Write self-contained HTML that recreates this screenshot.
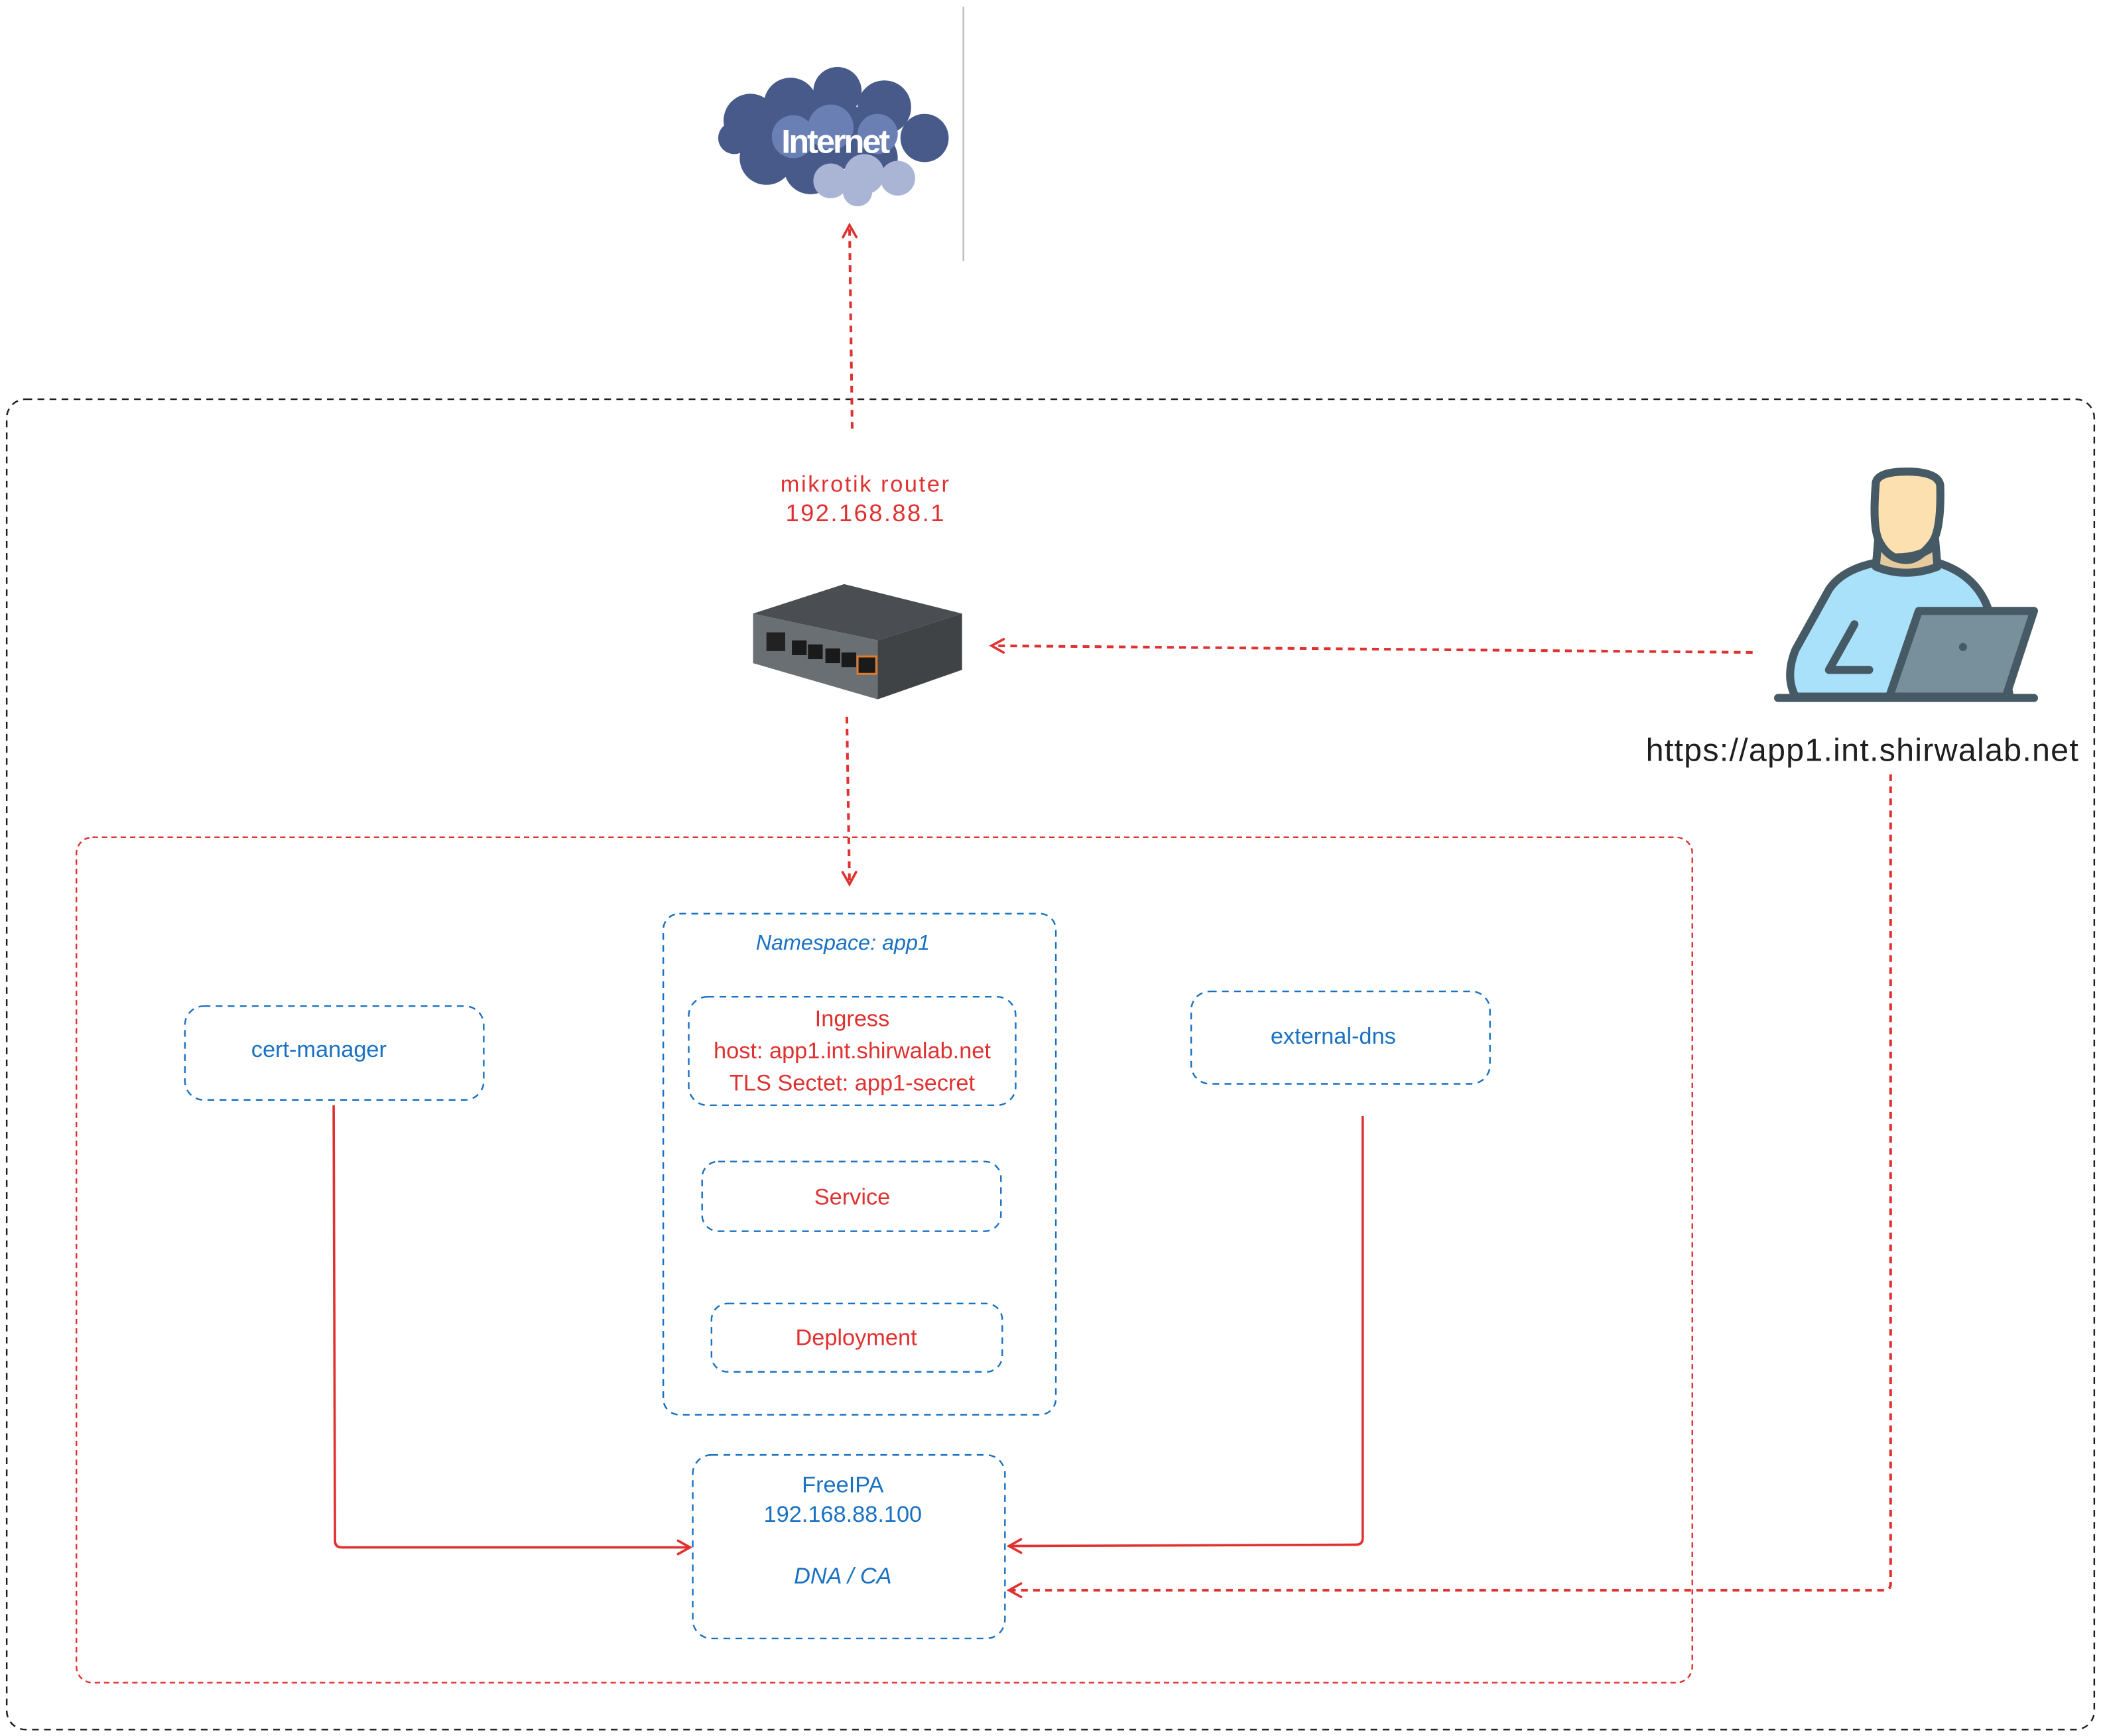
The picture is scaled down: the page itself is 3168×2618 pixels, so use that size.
<!DOCTYPE html>
<html><head><meta charset="utf-8"><style>
html,body{margin:0;padding:0;background:#fff;}
svg{display:block;}
text{font-family:"Liberation Sans",sans-serif;}
</style></head><body>
<svg width="3168" height="2618" viewBox="0 0 1568 1295.8" xmlns="http://www.w3.org/2000/svg">
<defs>
<marker id="ah" markerWidth="12" markerHeight="12" refX="10" refY="6" orient="auto" markerUnits="userSpaceOnUse">
<path d="M1,1 L10,6 L1,11" fill="none" stroke="#e03131" stroke-width="1.8" stroke-linecap="round"/>
</marker>
</defs>
<rect width="1568" height="1296" fill="#fff"/>
<line x1="719" y1="5" x2="719" y2="195" stroke="#bbb" stroke-width="1.2"/>
<rect x="5" y="298" width="1558" height="993" rx="14" fill="none" stroke="#1e1e1e" stroke-width="1.2" stroke-dasharray="5 4"/>
<rect x="57" y="625" width="1206" height="631" rx="12" fill="none" stroke="#e03131" stroke-width="1.2" stroke-dasharray="4 3"/>
<!-- cloud -->
<g>
<g fill="#475a8a">
<circle cx="560" cy="90" r="20"/><circle cx="590" cy="78" r="20"/><circle cx="625" cy="68" r="18"/><circle cx="660" cy="80" r="20"/><circle cx="690" cy="103" r="18"/><circle cx="572" cy="118" r="20"/><circle cx="605" cy="125" r="20"/><circle cx="650" cy="118" r="20"/><circle cx="548" cy="103" r="12"/><circle cx="620" cy="100" r="28"/>
</g>
<g fill="#6a7fb3"><circle cx="592" cy="102" r="16"/><circle cx="620" cy="95" r="17"/><circle cx="655" cy="100" r="15"/></g>
<g fill="#aab5d6"><circle cx="620" cy="135" r="13"/><circle cx="645" cy="130" r="15"/><circle cx="670" cy="133" r="13"/><circle cx="640" cy="143" r="11"/></g>
<text x="623" y="114" text-anchor="middle" font-size="25" font-weight="bold" fill="#fff" letter-spacing="-1.5">Internet</text>
</g>
<line x1="636" y1="320" x2="634" y2="168" stroke="#e03131" stroke-width="2" stroke-dasharray="5 4" marker-end="url(#ah)"/>
<text x="646" y="367" text-anchor="middle" font-size="17" fill="#e03131" letter-spacing="1.3">mikrotik router</text>
<text x="646" y="389" text-anchor="middle" font-size="18" fill="#e03131" letter-spacing="1.2">192.168.88.1</text>
<!-- router -->
<g>
<polygon points="562,458 630,436 718,458 655,478" fill="#4a4e52"/>
<polygon points="562,458 655,478 655,522 562,495" fill="#6a6f73"/>
<polygon points="655,478 718,458 718,500 655,522" fill="#3f4346"/>
<rect x="572" y="472" width="14" height="14" fill="#222"/>
<rect x="591" y="478" width="11" height="11" fill="#1a1a1a"/><rect x="603" y="481" width="11" height="11" fill="#1a1a1a"/><rect x="616" y="484" width="11" height="11" fill="#1a1a1a"/><rect x="628" y="487" width="11" height="11" fill="#1a1a1a"/>
<rect x="640" y="490" width="14" height="13" fill="#1a1a1a" stroke="#e07b2b" stroke-width="1.5"/>
</g>
<line x1="1308" y1="487" x2="740" y2="482" stroke="#e03131" stroke-width="2" stroke-dasharray="5 4" marker-end="url(#ah)"/>
<line x1="632" y1="535" x2="634" y2="660" stroke="#e03131" stroke-width="2" stroke-dasharray="5 4" marker-end="url(#ah)"/>
<!-- person -->
<g stroke="#455a64" stroke-width="6" stroke-linejoin="round" stroke-linecap="round">
<path d="M1340,520 Q1332,505 1340,485 L1365,440 Q1375,425 1400,420 L1446,420 Q1472,428 1482,450 L1490,470 L1500,520 Z" fill="#aae1fa"/>
<path d="M1402,400 L1400,423 Q1422,432 1446,423 L1444,400 Z" fill="#e5ca9e"/>
<path d="M1400,360 Q1402,352 1423,352 Q1446,352 1448,362 Q1449,395 1442,405 Q1432,418 1423,418 Q1410,418 1403,405 Q1397,395 1400,360 Z" fill="#fde0b0"/>
<path d="M1416,416 Q1430,416 1440,410" fill="none"/>
<line x1="1384" y1="466" x2="1365" y2="500" fill="none"/>
<line x1="1365" y1="500" x2="1395" y2="500" fill="none"/>
<polygon points="1432,456 1518,456 1497,520 1410,520" fill="#78909c"/>
<line x1="1327" y1="521" x2="1518" y2="521"/>
</g>
<circle cx="1465" cy="483" r="3" fill="#455a64"/>
<text x="1390" y="568" text-anchor="middle" font-size="24" fill="#1e1e1e" letter-spacing="0.6">https://app1.int.shirwalab.net</text>
<!-- namespace -->
<rect x="495" y="682" width="293" height="374" rx="12" fill="none" stroke="#1971c2" stroke-width="1.2" stroke-dasharray="5 4"/>
<text x="629" y="709" text-anchor="middle" font-size="16" font-style="italic" fill="#1971c2">Namespace: app1</text>
<rect x="514" y="744" width="244" height="81" rx="14" fill="none" stroke="#1971c2" stroke-width="1.2" stroke-dasharray="5 4"/>
<text x="636" y="766" text-anchor="middle" font-size="17" fill="#e03131">Ingress</text>
<text x="636" y="790" text-anchor="middle" font-size="17" fill="#e03131">host: app1.int.shirwalab.net</text>
<text x="636" y="814" text-anchor="middle" font-size="17" fill="#e03131">TLS Sectet: app1-secret</text>
<rect x="524" y="867" width="223" height="52" rx="12" fill="none" stroke="#1971c2" stroke-width="1.2" stroke-dasharray="5 4"/>
<text x="636" y="899" text-anchor="middle" font-size="17" fill="#e03131">Service</text>
<rect x="531" y="973" width="217" height="51" rx="12" fill="none" stroke="#1971c2" stroke-width="1.2" stroke-dasharray="5 4"/>
<text x="639" y="1004" text-anchor="middle" font-size="17" fill="#e03131">Deployment</text>
<rect x="138" y="751" width="223" height="70" rx="14" fill="none" stroke="#1971c2" stroke-width="1.2" stroke-dasharray="5 4"/>
<text x="238" y="789" text-anchor="middle" font-size="17" fill="#1971c2">cert-manager</text>
<rect x="889" y="740" width="223" height="69" rx="14" fill="none" stroke="#1971c2" stroke-width="1.2" stroke-dasharray="5 4"/>
<text x="995" y="779" text-anchor="middle" font-size="17" fill="#1971c2">external-dns</text>
<rect x="517" y="1086" width="233" height="137" rx="14" fill="none" stroke="#1971c2" stroke-width="1.2" stroke-dasharray="5 4"/>
<text x="629" y="1114" text-anchor="middle" font-size="17" fill="#1971c2">FreeIPA</text>
<text x="629" y="1136" text-anchor="middle" font-size="17" fill="#1971c2">192.168.88.100</text>
<text x="629" y="1182" text-anchor="middle" font-size="17" font-style="italic" fill="#1971c2">DNA / CA</text>
<path d="M249,825 L250,1150 Q250,1155 255,1155 L515,1155" fill="none" stroke="#e03131" stroke-width="1.8" marker-end="url(#ah)"/>
<path d="M1017,833 L1017,1148 Q1017,1153 1012,1153 L753,1154" fill="none" stroke="#e03131" stroke-width="1.8" marker-end="url(#ah)"/>
<path d="M1411,578 L1411,1182 Q1411,1187 1406,1187 L753,1187" fill="none" stroke="#e03131" stroke-width="2" stroke-dasharray="5 4" marker-end="url(#ah)"/>
</svg>
</body></html>
